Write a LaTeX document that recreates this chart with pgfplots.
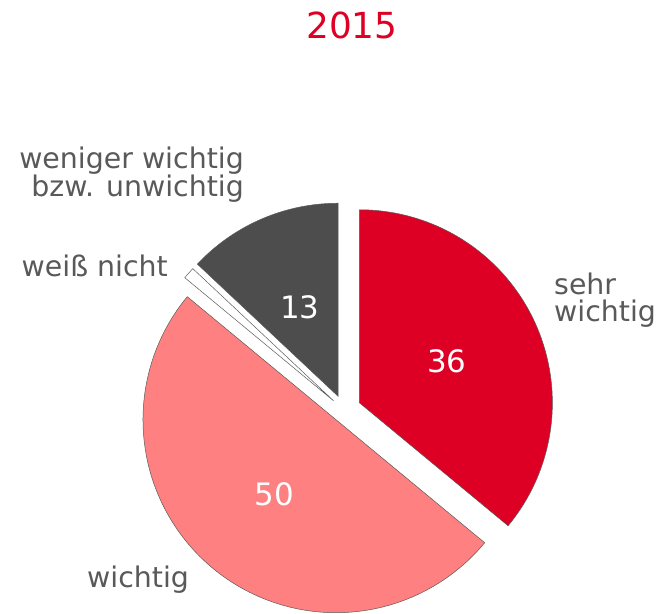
\documentclass[border=0pt]{standalone}
\usepackage{pgfplots}
\pgfplotsset{compat=1.18}
\usepackage{pgfplotstable}
\usepackage{fontspec}
\setmainfont{DejaVu Sans}

\definecolor{rotA}{HTML}{DE0024}
\definecolor{rosa}{HTML}{FF8080}
\definecolor{dunkel}{HTML}{4D4D4D}
\definecolor{txt}{HTML}{595959}
\definecolor{kante}{HTML}{5A5A5A}

% Anteile in Prozent, im Uhrzeigersinn ab 12 Uhr
\pgfplotstableread{
segment wert
sehr 36
wichtig 50
weissnicht 1
weniger 13
}\anteile

\begin{document}
\begin{tikzpicture}[every node/.style={inner sep=0pt}]
  \pgfplotstablegetelem{0}{wert}\of\anteile \let\wA\pgfplotsretval
  \pgfplotstablegetelem{1}{wert}\of\anteile \let\wB\pgfplotsretval
  \pgfplotstablegetelem{2}{wert}\of\anteile \let\wC\pgfplotsretval
  \pgfplotstablegetelem{3}{wert}\of\anteile \let\wD\pgfplotsretval
  \def\R{193}\def\cx{344}\def\cy{204}
  % Winkelgrenzen
  \pgfmathsetmacro\aA{90-3.6*\wA}
  \pgfmathsetmacro\aB{\aA-3.6*\wB}
  \pgfmathsetmacro\aC{\aB-3.6*\wC}
  \pgfmathsetmacro\aD{\aC-3.6*\wD}
  % Mittelwinkel
  \pgfmathsetmacro\mA{(90+\aA)/2}
  \pgfmathsetmacro\mB{(\aA+\aB)/2}
  \pgfmathsetmacro\mC{(\aB+\aC)/2}
  \pgfmathsetmacro\mD{(\aC+\aD)/2}
  % Explosion
  \pgfmathsetmacro\oxA{\cx+17*cos(\mA)}   \pgfmathsetmacro\oyA{\cy+17*sin(\mA)}
  \pgfmathsetmacro\oxB{\cx+12.6*cos(\mB)} \pgfmathsetmacro\oyB{\cy+12.6*sin(\mB)}
  \pgfmathsetmacro\oxC{\cx+14*cos(\mC)}   \pgfmathsetmacro\oyC{\cy+14*sin(\mC)}
  \pgfmathsetmacro\oxD{\cx+15*cos(\mD)}   \pgfmathsetmacro\oyD{\cy+15*sin(\mD)}
  % Wertbeschriftungen
  \pgfmathsetmacro\lxA{\oxA+0.5*\R*cos(\mA)} \pgfmathsetmacro\lyA{\oyA+0.5*\R*sin(\mA)}
  \pgfmathsetmacro\lxB{\oxB+0.5*\R*cos(\mB)} \pgfmathsetmacro\lyB{\oyB+0.5*\R*sin(\mB)}
  \pgfmathsetmacro\lxD{\oxD+0.5*\R*cos(\mD)} \pgfmathsetmacro\lyD{\oyD+0.5*\R*sin(\mD)}
  \begin{axis}[
    width=658bp, height=614bp,
    scale only axis,
    xmin=0, xmax=658, ymin=0, ymax=614,
    hide axis,
    clip=false,
  ]
    \path (rel axis cs:0,0) rectangle (rel axis cs:1,1);
    \addplot[fill=rotA, draw=kante, line width=0.5pt, domain=\aA:90, samples=90]
      ({\oxA+\R*cos(x)},{\oyA+\R*sin(x)}) -- (axis cs:\oxA,\oyA) -- cycle;
    \addplot[fill=rosa, draw=kante, line width=0.5pt, domain=\aB:\aA, samples=120]
      ({\oxB+\R*cos(x)},{\oyB+\R*sin(x)}) -- (axis cs:\oxB,\oyB) -- cycle;
    \addplot[fill=white, draw=kante, line width=0.5pt, domain=\aC:\aB, samples=5]
      ({\oxC+\R*cos(x)},{\oyC+\R*sin(x)}) -- (axis cs:\oxC,\oyC) -- cycle;
    \addplot[fill=dunkel, draw=kante, line width=0.5pt, domain=\aD:\aC, samples=40]
      ({\oxD+\R*cos(x)},{\oyD+\R*sin(x)}) -- (axis cs:\oxD,\oyD) -- cycle;

    \node[text=white, font=\fontsize{31}{31}\selectfont] at (axis cs:\lxA,\lyA) {\wA};
    \node[text=white, font=\fontsize{31}{31}\selectfont] at (axis cs:\lxB,\lyB) {\wB};
    \node[text=white, font=\fontsize{31}{31}\selectfont] at (axis cs:\lxD,\lyD) {\wD};

    \node[text=rotA, font=\fontsize{36}{36}\selectfont, anchor=base]
      at (axis cs:352,575) {2015};
    % bei mehrzeiligen Knoten bezieht sich "base" auf die letzte Zeile
    \node[text=txt, font=\fontsize{28.5}{29}\selectfont, align=right, anchor=base east]
      at (axis cs:244,417) {weniger wichtig\\bzw. unwichtig};
    \node[text=txt, font=\fontsize{28.5}{29}\selectfont, anchor=base east]
      at (axis cs:168,337) {weiß nicht};
    \node[text=txt, font=\fontsize{28.5}{28}\selectfont, align=left, anchor=base west]
      at (axis cs:554,292) {sehr\\wichtig};
    \node[text=txt, font=\fontsize{28.5}{29}\selectfont, anchor=base west]
      at (axis cs:87,27) {wichtig};
  \end{axis}
\end{tikzpicture}
\end{document}
